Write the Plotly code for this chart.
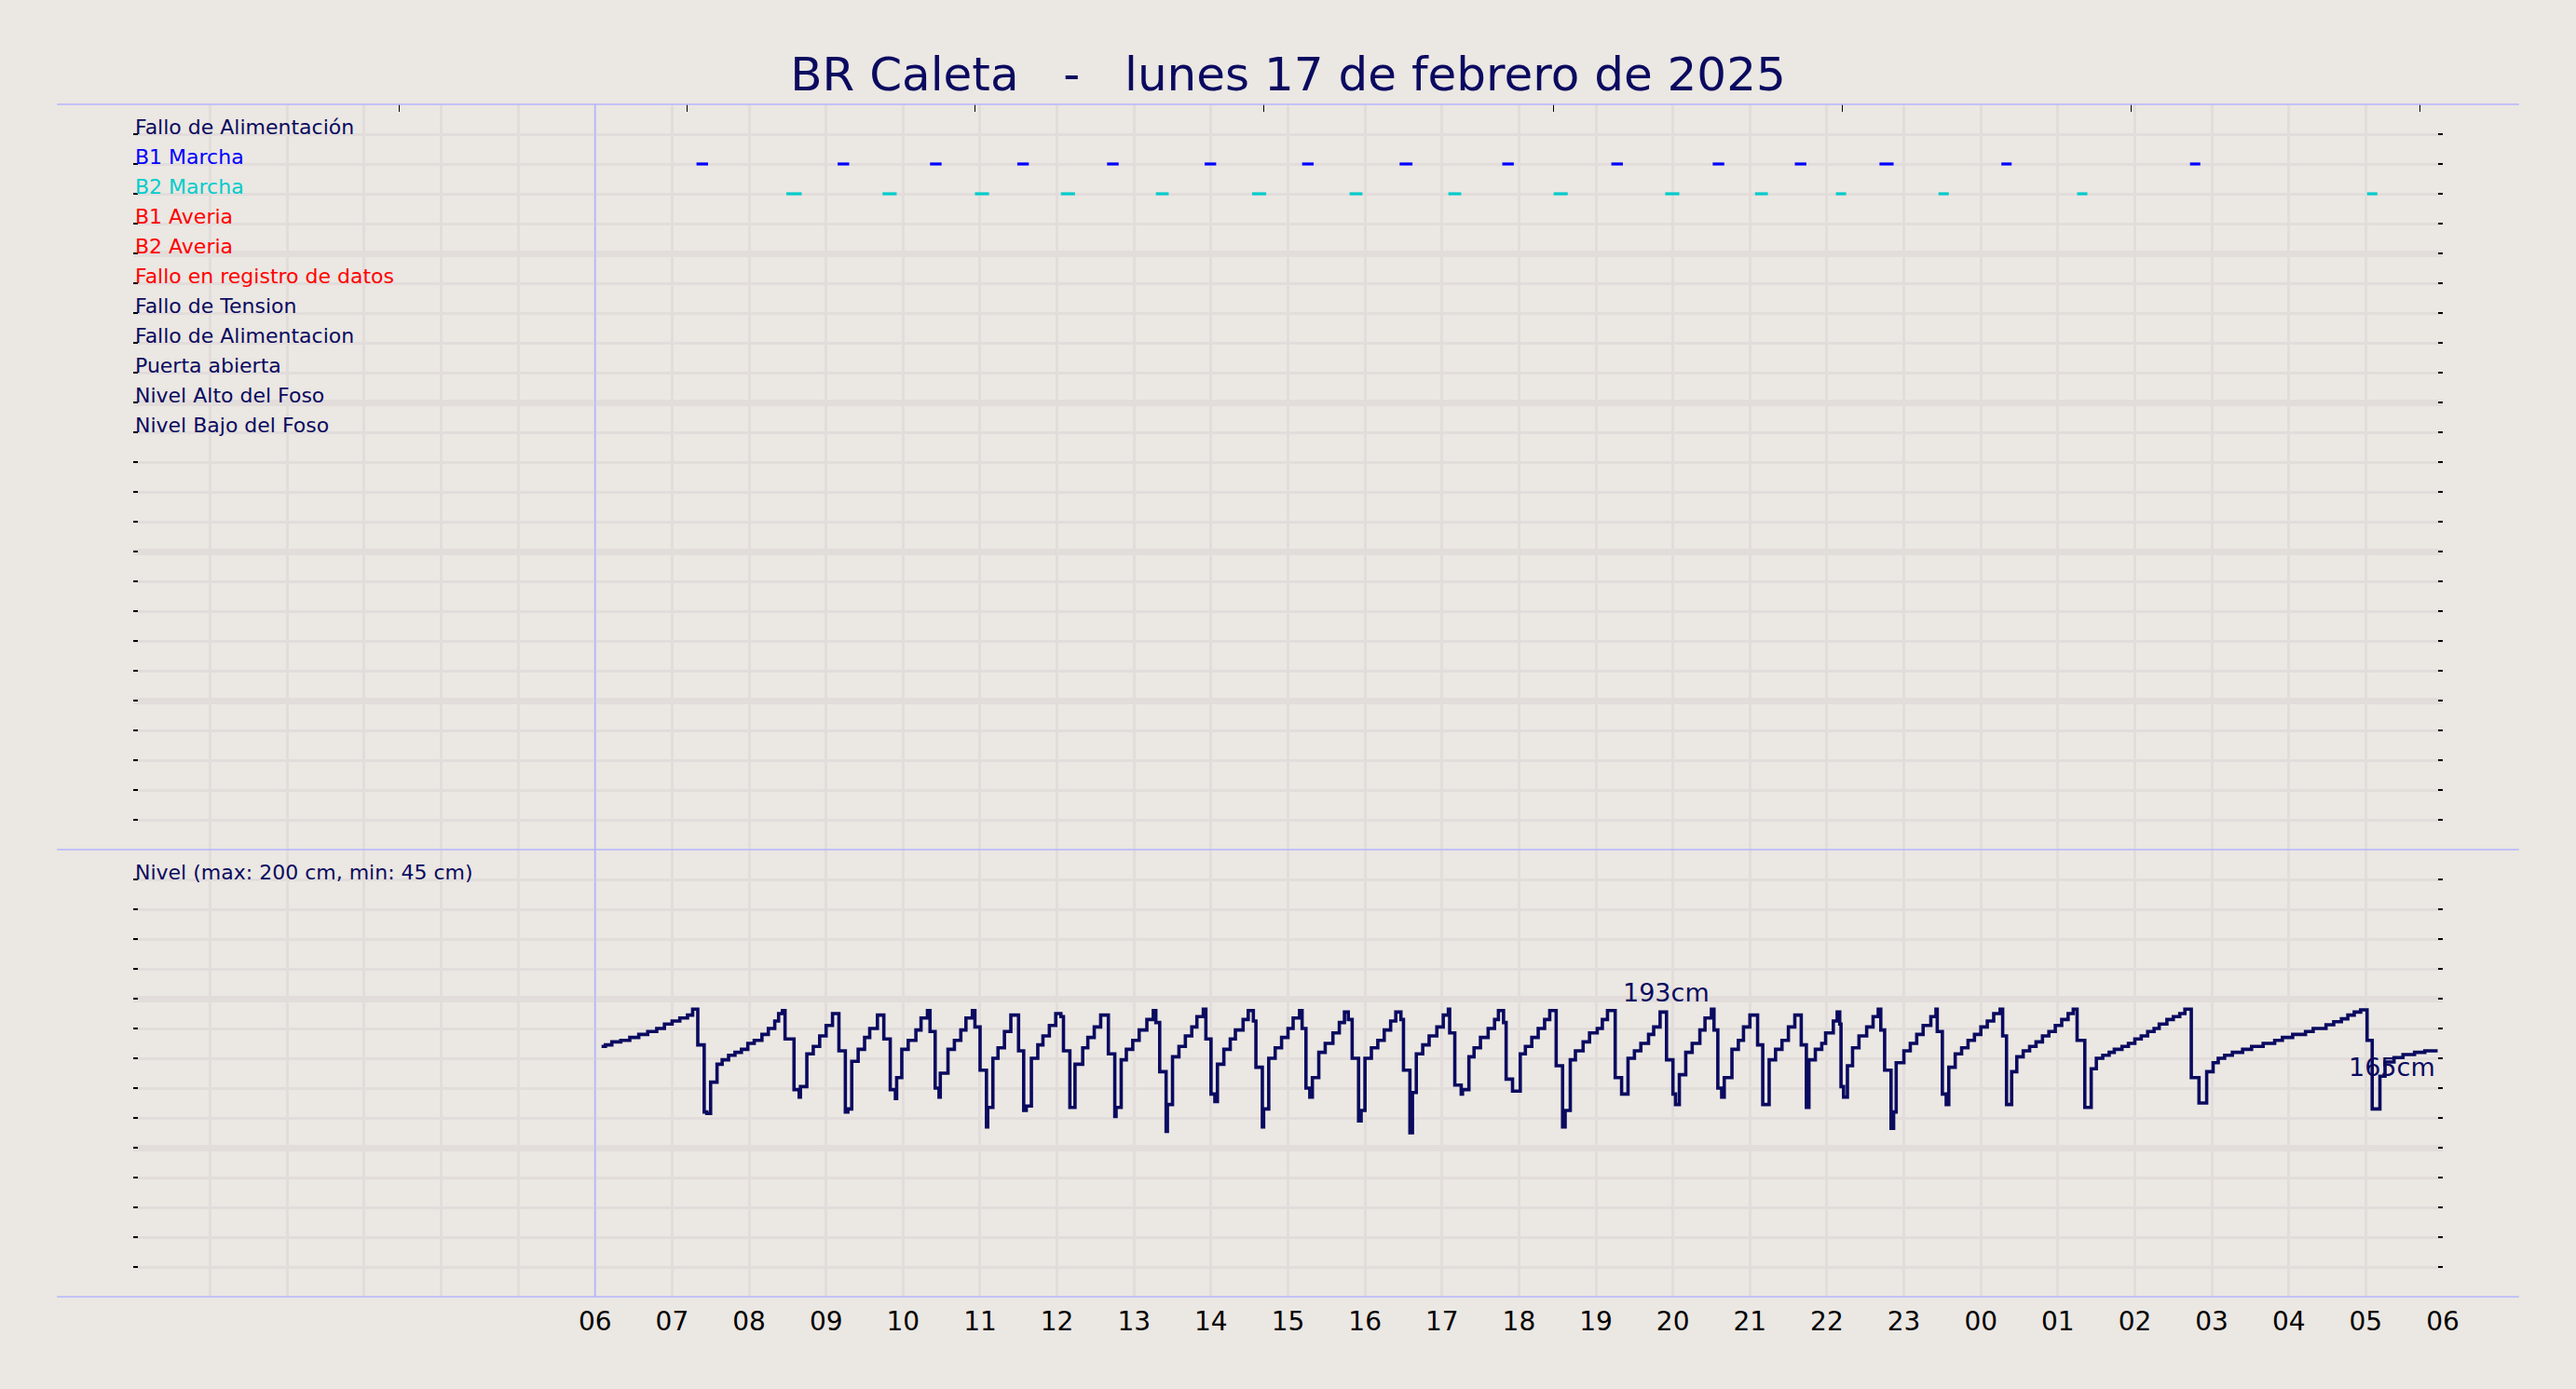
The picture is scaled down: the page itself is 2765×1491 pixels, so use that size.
import pandas as pd
import plotly.graph_objects as go

# ---- data ----
title_text = "BR Caleta\u00a0\u00a0\u00a0-\u00a0\u00a0\u00a0lunes 17 de febrero de 2025"

signal_names = [
    "Fallo de Alimentación", "B1 Marcha", "B2 Marcha", "B1 Averia", "B2 Averia",
    "Fallo en registro de datos", "Fallo de Tension", "Fallo de Alimentacion",
    "Puerta abierta", "Nivel Alto del Foso", "Nivel Bajo del Foso",
]
signal_colors = [
    "#0a0a60", "#0000ff", "#00cccc", "#ff0000", "#ff0000",
    "#ff0000", "#0a0a60", "#0a0a60", "#0a0a60", "#0a0a60", "#0a0a60",
]

b1_start = ["2025-02-17 07:19", "2025-02-17 09:09", "2025-02-17 10:21", "2025-02-17 11:29",
            "2025-02-17 12:39", "2025-02-17 13:55", "2025-02-17 15:11", "2025-02-17 16:27",
            "2025-02-17 17:47", "2025-02-17 19:12", "2025-02-17 20:31", "2025-02-17 21:35",
            "2025-02-17 22:41", "2025-02-18 00:16", "2025-02-18 02:43"]
b1_end = ["2025-02-17 07:28", "2025-02-17 09:18", "2025-02-17 10:30", "2025-02-17 11:38",
          "2025-02-17 12:48", "2025-02-17 14:04", "2025-02-17 15:20", "2025-02-17 16:37",
          "2025-02-17 17:56", "2025-02-17 19:21", "2025-02-17 20:40", "2025-02-17 21:44",
          "2025-02-17 22:52", "2025-02-18 00:24", "2025-02-18 02:51"]
b2_start = ["2025-02-17 08:29", "2025-02-17 09:44", "2025-02-17 10:56", "2025-02-17 12:03",
            "2025-02-17 13:17", "2025-02-17 14:32", "2025-02-17 15:48", "2025-02-17 17:05",
            "2025-02-17 18:27", "2025-02-17 19:54", "2025-02-17 21:04", "2025-02-17 22:07",
            "2025-02-17 23:27", "2025-02-18 01:15", "2025-02-18 05:01"]
b2_end = ["2025-02-17 08:41", "2025-02-17 09:55", "2025-02-17 11:07", "2025-02-17 12:14",
          "2025-02-17 13:27", "2025-02-17 14:43", "2025-02-17 15:58", "2025-02-17 17:15",
          "2025-02-17 18:38", "2025-02-17 20:05", "2025-02-17 21:14", "2025-02-17 22:15",
          "2025-02-17 23:35", "2025-02-18 01:23", "2025-02-18 05:09"]

# level readings: minutes after 06:00 and cm
level_minutes = [
    5, 8, 13, 20, 27, 34, 41, 48, 54, 60, 66, 72, 76, 80,
    85, 87, 90, 95, 99, 104, 109, 114, 119, 124, 130, 135, 140, 143, 146,
    148, 155, 159, 160, 165, 170, 175, 180, 185,
    190, 195, 197, 200, 205, 210, 214, 220,
    225, 230, 234, 235, 239, 244, 250, 254, 259,
    261, 265, 268, 269, 275, 280, 285, 289, 294,
    296, 300, 305, 306, 310, 314, 319, 324,
    330, 334, 336, 340, 345, 349, 354, 359, 363,
    365, 370, 374, 380, 384, 389, 394,
    400, 405, 406, 410, 414, 419, 424, 430, 435, 437,
    440, 445, 446, 450, 455, 460, 465, 469, 474,
    476, 480, 483, 485, 490, 495, 499, 505, 509, 513,
    515, 520, 521, 525, 530, 535, 540, 544, 549,
    551, 554, 557, 559, 564, 569, 575, 580, 584, 587,
    590, 595, 597, 600, 605, 610, 615, 620, 624, 628,
    630, 635, 637, 640, 645, 650, 656, 661, 665,
    666, 670, 675, 676, 681, 685, 690, 696, 701, 704,
    708, 710, 715, 721, 725, 730, 735, 740, 744,
    749, 754, 756, 760, 764, 770, 775, 781, 785, 789,
    795, 800, 805, 810, 815, 821, 825, 830,
    835, 840, 842, 845, 850, 855, 861, 865, 870,
    872, 875, 878, 880, 886, 891, 895, 900,
    906, 910, 915, 920, 925, 930, 935,
    940, 944, 946, 951, 956, 959, 965, 968,
    970, 971, 973, 976, 980, 985, 991, 996, 1000,
    1002, 1005, 1010, 1012, 1014, 1020, 1025, 1030, 1035, 1041, 1045,
    1046, 1050, 1053, 1055, 1060, 1065, 1070, 1075, 1080, 1085, 1090, 1095,
    1097, 1100, 1104, 1108, 1113, 1118, 1123, 1128, 1133, 1138, 1143, 1148, 1152,
    1155, 1161, 1166, 1170, 1175, 1180, 1184, 1190, 1195, 1200, 1205, 1210, 1215,
    1219, 1225, 1230, 1235, 1239,
    1244, 1250, 1256, 1261, 1265, 1270, 1276, 1284, 1291, 1300, 1309, 1315, 1323,
    1333, 1339, 1349, 1355, 1361, 1366, 1371, 1376,
    1381, 1385, 1391, 1395, 1402, 1409, 1418, 1426, 1436,
]
level_cm = [
    168, 169, 171, 172, 174, 176, 178, 180, 183, 185, 187, 189, 193, 169,
    124, 123, 144, 156, 159, 162, 164, 166, 170, 172, 176, 180, 185, 190, 192,
    173, 139, 134, 141, 163, 168, 175, 182, 190,
    165, 124, 126, 158, 166, 174, 180, 189,
    173, 139, 133, 147, 166, 172, 179, 187, 192,
    178, 140, 134, 150, 166, 172, 179, 187, 192,
    181, 152, 114, 127, 160, 167, 178, 189,
    165, 125, 128, 160, 169, 175, 182, 190, 188,
    165, 127, 156, 167, 174, 181, 189,
    163, 121, 127, 159, 166, 172, 179, 186, 192, 184,
    151, 111, 129, 161, 168, 175, 181, 188, 193,
    173, 136, 131, 156, 166, 173, 179, 186, 192, 185,
    154, 114, 126, 160, 167, 174, 180, 187, 192,
    180, 140, 134, 147, 164, 170, 177, 184, 191, 186,
    160, 118, 125, 160, 167, 172, 179, 185, 191, 186,
    152, 110, 137, 163, 169, 175, 181, 189, 193,
    177, 142, 136, 139, 161, 167, 174, 180, 186, 192,
    184, 146, 138, 163, 168, 174, 180, 186, 192,
    155, 114, 125, 159, 165, 171, 177, 180, 186, 192,
    147, 136, 160, 165, 170, 176, 181, 191,
    159, 136, 129, 149, 164, 170, 179, 187, 193,
    179, 140, 134, 147, 166, 172, 181, 189,
    169, 129, 159, 166, 172, 181, 189,
    169, 127, 159, 166, 170, 177, 185, 191,
    183, 141, 134, 155, 167, 175, 181, 188, 193,
    179, 152, 113, 124, 157, 165, 170, 176, 182, 188, 193,
    178, 136, 129, 154, 163, 167, 172, 176, 181, 185, 190, 193,
    175, 129, 151, 161, 165, 168, 171, 175, 178, 182, 186, 190, 193,
    172, 127, 153, 160, 162, 164, 166, 168, 170, 173, 175, 178, 180,
    183, 186, 188, 190, 193,
    147, 130, 151, 157, 160, 162, 164, 166, 168, 170, 172, 174, 176,
    178, 180, 182.5, 184.5, 186.5, 189, 191, 192.5,
    172, 126, 148, 157.5, 160.5, 162.5, 164, 165, 165,
]

level_title = "Nivel (max: 200 cm, min: 45 cm)"
max_label_time = "2025-02-17 19:55"
max_label_cm = 193
last_label_cm = 165

hour_labels = ["06", "07", "08", "09", "10", "11", "12", "13", "14", "15", "16", "17", "18",
               "19", "20", "21", "22", "23", "00", "01", "02", "03", "04", "05", "06"]
top_tick_times = ["2025-02-17 03:27", "2025-02-17 07:12", "2025-02-17 10:56", "2025-02-17 14:41",
                  "2025-02-17 18:27", "2025-02-17 22:12", "2025-02-18 01:57", "2025-02-18 05:42"]

# ---- styling ----
BG = "#ebe7e2"
GRID = "#e2dddb"
NAVY = "#0a0a60"
EDGE = "#b4b4ff"
FONT = "DejaVu Sans"

day_start = pd.Timestamp("2025-02-17 06:00")
x_range = [pd.Timestamp("2025-02-17 00:00"), pd.Timestamp("2025-02-18 06:00")]
level_time = day_start + pd.to_timedelta(level_minutes, unit="min")
hour_ticks = [day_start + pd.Timedelta(hours=i) for i in range(len(hour_labels))]


def segments(starts, ends, row):
    xs, ys = [], []
    for s, e in zip(starts, ends):
        xs += [s, e, None]
        ys += [row, row, None]
    return xs, ys


fig = go.Figure()

b1_x, b1_y = segments(b1_start, b1_end, 23)
b2_x, b2_y = segments(b2_start, b2_end, 22)
fig.add_trace(go.Scatter(x=b1_x, y=b1_y, mode="lines", line=dict(color="#0000ff", width=3.2),
                         xaxis="x", yaxis="y"))
fig.add_trace(go.Scatter(x=b2_x, y=b2_y, mode="lines", line=dict(color="#00cccc", width=3.2),
                         xaxis="x", yaxis="y"))
# carrier for the top tick axis
fig.add_trace(go.Scatter(x=x_range, y=[None, None], mode="lines", xaxis="x3", yaxis="y",
                         hoverinfo="skip"))

fig.add_trace(go.Scatter(x=level_time, y=level_cm, mode="lines", line_shape="hv",
                         line=dict(color=NAVY, width=3.6), xaxis="x2", yaxis="y2"))

grid_x = dict(
    range=x_range, type="date", showgrid=True, gridcolor=GRID, gridwidth=3,
    tickvals=hour_ticks, zeroline=False, showline=False,
    minor=dict(dtick=3600000, tick0="2025-02-17 00:00", showgrid=True,
               gridcolor=GRID, gridwidth=3, ticks=""),
)
grid_y = dict(
    showgrid=True, gridcolor=GRID, gridwidth=7, zeroline=False, showline=False,
    ticks="inside", ticklen=5, tickwidth=1.5, tickcolor="black", mirror="ticks",
    showticklabels=False, fixedrange=True,
)

fig.update_layout(
    width=2765, height=1491,
    paper_bgcolor=BG, plot_bgcolor=BG,
    font=dict(family=FONT, color=NAVY),
    showlegend=False,
    margin=dict(l=143, r=143, t=112, b=99),
    title=dict(text=title_text, x=0.5, xanchor="center", y=1 - 79 / 1491, yanchor="middle",
               yref="container", font=dict(size=50, color=NAVY, family=FONT)),
    xaxis=dict(**grid_x, domain=[0, 1], anchor="y", showticklabels=False, ticks=""),
    xaxis2=dict(**grid_x, domain=[0, 1], anchor="y2", ticktext=hour_labels,
                ticks="outside", ticklen=1, tickcolor="rgba(0,0,0,0)",
                tickfont=dict(size=28, color="black", family=FONT)),
    xaxis3=dict(range=x_range, type="date", overlaying="x", side="top", anchor="y",
                tickvals=top_tick_times, ticks="inside", ticklen=8, tickwidth=1.2,
                tickcolor="black", showticklabels=False, showgrid=False, zeroline=False,
                showline=False),
    yaxis=dict(**grid_y, domain=[0.375, 1], anchor="x", range=[0, 25], dtick=5, tick0=0,
               minor=dict(dtick=1, tick0=0, ticks="inside", ticklen=5, tickwidth=1.5,
                          tickcolor="black", showgrid=True, gridcolor=GRID, gridwidth=2.5)),
    yaxis2=dict(**grid_y, domain=[0, 0.375], anchor="x2", range=[0, 300], dtick=100, tick0=0,
                minor=dict(dtick=20, tick0=0, ticks="inside", ticklen=5, tickwidth=1.5,
                           tickcolor="black", showgrid=True, gridcolor=GRID, gridwidth=2.5)),
)

# signal labels on the upper panel
for k, (name, col) in enumerate(zip(signal_names, signal_colors)):
    fig.add_annotation(x=0, xref="paper", y=24 - k, yref="y", text=name, showarrow=False,
                       xanchor="left", yanchor="middle", yshift=8,
                       font=dict(size=22, color=col, family=FONT))

fig.add_annotation(x=0, xref="paper", y=280, yref="y2", text=level_title, showarrow=False,
                   xanchor="left", yanchor="middle", yshift=8,
                   font=dict(size=22, color=NAVY, family=FONT))
fig.add_annotation(x=max_label_time, xref="x2", y=max_label_cm, yref="y2",
                   text=f"{max_label_cm}cm", showarrow=False, xanchor="center",
                   yanchor="bottom", font=dict(size=27, color=NAVY, family=FONT))
fig.add_annotation(x=level_time[-1], xref="x2", y=last_label_cm, yref="y2",
                   text=f"{last_label_cm}cm", showarrow=False, xanchor="right",
                   yanchor="top", font=dict(size=27, color=NAVY, family=FONT))

# frame lines and the 06:00 marker
for yp in [1, 0.375, 0]:
    fig.add_shape(type="line", xref="paper", yref="paper", x0=-0.033, x1=1.033, y0=yp, y1=yp,
                  line=dict(color=EDGE, width=1.5))
fig.add_shape(type="line", xref="x", yref="paper", x0=day_start, x1=day_start, y0=0, y1=1,
              line=dict(color=EDGE, width=1.5))

# drop the browser's default page margin so the figure fills the window
fig.write_html("out.html", config={"displayModeBar": False},
               post_script=f"document.body.style.margin='0';document.body.style.background='{BG}';")
